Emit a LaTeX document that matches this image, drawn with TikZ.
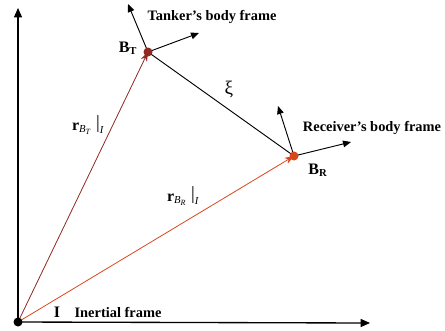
\documentclass[tikz,border=0pt]{standalone}
\usepackage{fontspec}
\setmainfont{Liberation Serif}
\usetikzlibrary{arrows.meta}
\definecolor{tred}{HTML}{8E2A22}
\definecolor{rred}{HTML}{D8461E}
\tikzset{
  ax/.style={line width=1pt,-{Triangle[length=7pt,width=6pt]}},
  fr/.style={line width=0.7pt,-{Triangle[length=6pt,width=5pt]}},
  vec/.style={line width=0.6pt,-{Stealth[length=7pt,width=5pt]}},
  lbl/.style={font=\bfseries\fontsize{10.8}{12}\selectfont,inner sep=0pt},
  blbl/.style={font=\bfseries\fontsize{12}{14}\selectfont,inner sep=0pt},
  rlbl/.style={font=\fontsize{12}{14}\selectfont,inner sep=0pt},
}
\newcommand{\rvec}[1]{\textbf{r}\raisebox{-0.35ex}{\fontsize{8}{9}\selectfont\textit{B}\raisebox{-0.3ex}{\fontsize{6}{7}\selectfont\textit{#1}}}\hspace{0.35em}\raisebox{0.2ex}{\fontsize{14}{15}\selectfont|}\raisebox{-0.5ex}{\fontsize{8}{9}\selectfont\textit{I}}}
\begin{document}
\begin{tikzpicture}[x=0.75pt,y=-0.75pt]
\useasboundingbox (0,0) rectangle (445,330);
\coordinate (O) at (18,322);
\coordinate (Ytip) at (18,8);
\coordinate (Xtip) at (370,323);
\coordinate (BT) at (148,52);
\coordinate (BR) at (294,156);
\coordinate (T1) at (128,4);
\coordinate (T2) at (199,33);
\coordinate (R1) at (278,106);
\coordinate (R2) at (351,142);
\draw[ax] (O) -- (Ytip);
\draw[ax] (O) -- (Xtip);
\draw[vec,tred] (O) -- (BT);
\draw[vec,rred] (O) -- (BR);
\draw[line width=0.7pt] (BT) -- (BR);
\draw[fr] (BT) -- (T1);
\draw[fr] (BT) -- (T2);
\draw[fr] (BR) -- (R1);
\draw[fr] (BR) -- (R2);
\fill[tred] (BT) circle (4.5);
\fill[rred] (BR) circle (4.5);
\fill[black] (O) circle (4.5);
\node[lbl] (tl) at (212,17) {Tanker’s body frame};
\node[lbl] (rl) at (372,128) {Receiver’s body frame};
\node[blbl] (btl) at (128,48) {B\textsubscript{T}};
\node[blbl] (brl) at (318,170) {B\textsubscript{R}};
\node[inner sep=0pt,font=\Large] (xi) at (229,89) {ξ};
\node[rlbl] (rt) at (88,125) {\rvec{T}};
\node[rlbl] (rr) at (183,196) {\rvec{R}};
\node[blbl] (il) at (57,312) {I};
\node[lbl] (ifl) at (118,312) {Inertial frame};
\end{tikzpicture}
\end{document}
